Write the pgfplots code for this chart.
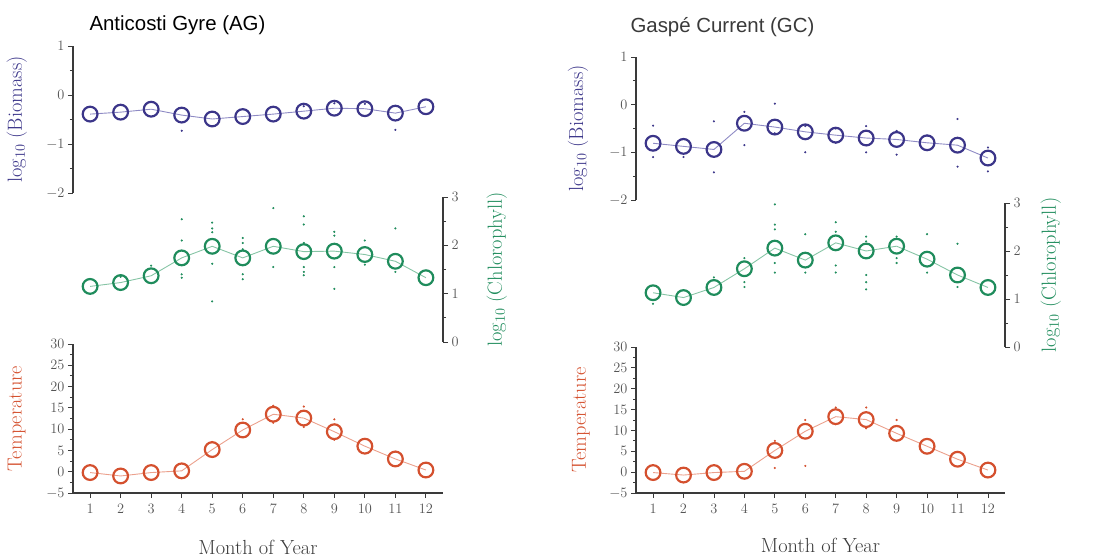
\documentclass[border=0pt]{standalone}
\usepackage{pgfplots}
\pgfplotsset{compat=1.18}
\usepackage{fontspec}
\newfontfamily\titlefont{Liberation Sans}
\definecolor{bioc}{HTML}{3B3589}
\definecolor{bioL}{HTML}{8E8AC4}
\definecolor{chlc}{HTML}{1F8C5C}
\definecolor{chlL}{HTML}{86C4A5}
\definecolor{tmpc}{HTML}{D4502E}
\definecolor{tmpL}{HTML}{EBA08C}
\definecolor{axisgray}{HTML}{3A3A3A}
\definecolor{tickgray}{HTML}{555555}
\pgfplotsset{
 panel/.style={scale only axis, xmin=0.44, xmax=12.56, width=370bp,
   anchor=south west, clip=false,
   axis line style={draw=axisgray, line width=1.3pt},
   tick style={draw=axisgray, line width=0.9pt},
   major tick length=5bp, minor tick length=3bp, tick align=outside,
   tick label style={font=\fontsize{13.5}{13.5}\selectfont, text=tickgray},
   label style={font=\fontsize{20.5}{20.5}\selectfont}},
 bio/.style={ymin=-2, ymax=1, ytick={-2,-1,0,1}, minor ytick={-1.5,-0.5,0.5},
   axis x line=none, axis y line*=left, ylabel={log$_{10}$ (Biomass)}},
 chl/.style={ymin=0, ymax=3, ytick={0,1,2,3}, minor ytick={0.5,1.5,2.5},
   axis x line=none, axis y line*=right, ylabel={log$_{10}$ (Chlorophyll)}},
 tmp/.style={ymin=-5, ymax=30, ytick={-5,0,5,10,15,20,25,30}, minor y tick num=1,
   xtick={1,...,12}, axis x line*=bottom, axis y line*=left,
   xticklabel style={yshift=-3bp},
   ylabel={Temperature}, xlabel={Month of Year},
   xlabel style={at={(axis description cs:0.5,-0.362)}, anchor=center, text=axisgray}},
 mainline/.style={line width=0.9pt, mark=o, mark size=7.4pt,
   mark options={line width=2.2pt, fill=white, draw=#1}},
 dots/.style={only marks, mark=*, mark size=0.85pt},
}
\begin{document}
\begin{tikzpicture}
\path[use as bounding box] (0,0) rectangle (1103bp,556bp);
% ---------- Left panel (AG) ----------
\begin{axis}[panel, bio, at={(73bp,363bp)}, height=147bp,
  ylabel style={text=bioc, at={(axis description cs:-0.152,0.5)}, anchor=center}]
\addplot[dots, bioc] coordinates {(4,-0.73) (11,-0.71) (9,-0.17) (10,-0.18) (8,-0.23)};
\addplot[mainline=bioc, bioL] coordinates {
(1,-0.39) (2,-0.35) (3,-0.29) (4,-0.41) (5,-0.49) (6,-0.44) (7,-0.39) (8,-0.33) (9,-0.27) (10,-0.28) (11,-0.37) (12,-0.24)};
\end{axis}
\begin{axis}[panel, chl, at={(73bp,214bp)}, height=145bp,
  ylabel style={text=chlc, at={(axis description cs:1.145,0.5)}, anchor=center}]
\addplot[dots, chlc] coordinates {(2,1.35) (3,1.58) (4,2.54) (4,2.1) (4,1.4) (4,1.33) (5,2.47) (5,2.35) (5,2.27) (5,1.62) (5,0.84) (6,2.15) (6,2.05) (6,1.92) (6,1.4) (6,1.3) (7,2.77) (7,1.55) (8,2.6) (8,2.43) (8,2.05) (8,1.55) (8,1.45) (8,1.38) (9,2.28) (9,2.2) (9,1.55) (9,1.1) (10,2.1) (10,1.6) (11,2.35) (11,1.45)};
\addplot[mainline=chlc, chlL] coordinates {
(1,1.15) (2,1.23) (3,1.37) (4,1.74) (5,1.98) (6,1.74) (7,1.98) (8,1.87) (9,1.88) (10,1.81) (11,1.67) (12,1.33)};
\end{axis}
\begin{axis}[panel, tmp, at={(73bp,63bp)}, height=149bp,
  ylabel style={text=tmpc, at={(axis description cs:-0.152,0.5)}, anchor=center}]
\addplot[dots, tmpc] coordinates {(5,7.0) (6,12.3) (7,15.5) (8,15.3) (9,12.3) (7,11.5) (8,10.5) (9,7.5)};
\addplot[mainline=tmpc, tmpL] coordinates {
(1,-0.2) (2,-1.0) (3,-0.2) (4,0.2) (5,5.2) (6,9.8) (7,13.5) (8,12.6) (9,9.4) (10,6.0) (11,3.0) (12,0.4)};
\end{axis}
% ---------- Right panel (GC) ----------
\begin{axis}[panel, bio, at={(636bp,356bp)}, width=369bp, height=143bp,
  ylabel style={text=bioc, at={(axis description cs:-0.157,0.5)}, anchor=center}]
\addplot[dots, bioc] coordinates {(1,-0.44) (1,-1.1) (2,-1.1) (3,-0.35) (3,-1.42) (4,-0.15) (4,-0.85) (5,0.02) (5,-0.6) (6,-0.45) (6,-1.0) (7,-0.5) (7,-0.8) (8,-0.45) (8,-1.0) (9,-0.55) (9,-1.05) (10,-0.65) (11,-0.3) (11,-1.3) (12,-0.9) (12,-1.4)};
\addplot[mainline=bioc, bioL] coordinates {
(1,-0.81) (2,-0.875) (3,-0.94) (4,-0.39) (5,-0.47) (6,-0.57) (7,-0.64) (8,-0.7) (9,-0.73) (10,-0.8) (11,-0.85) (12,-1.12)};
\end{axis}
\begin{axis}[panel, chl, at={(636bp,209bp)}, width=369bp, height=144bp,
  ylabel style={text=chlc, at={(axis description cs:1.124,0.5)}, anchor=center}]
\addplot[dots, chlc] coordinates {(1,0.9) (3,1.45) (4,1.85) (4,1.35) (4,1.25) (5,2.97) (5,2.55) (5,2.45) (5,1.75) (5,1.55) (6,2.35) (6,1.55) (7,2.6) (7,2.4) (7,1.7) (7,1.55) (8,2.3) (8,2.2) (8,1.5) (8,1.35) (8,1.2) (9,2.3) (9,1.85) (9,1.75) (10,2.35) (10,1.55) (11,2.15) (11,1.25)};
\addplot[mainline=chlc, chlL] coordinates {
(1,1.13) (2,1.03) (3,1.24) (4,1.63) (5,2.06) (6,1.81) (7,2.17) (8,2.0) (9,2.1) (10,1.83) (11,1.5) (12,1.24)};
\end{axis}
\begin{axis}[panel, tmp, at={(636bp,63bp)}, width=369bp, height=146bp,
  ylabel style={text=tmpc, at={(axis description cs:-0.149,0.5)}, anchor=center}]
\addplot[dots, tmpc] coordinates {(5,1.0) (6,1.5) (5,7.5) (6,12.5) (7,15.5) (8,15.5) (9,12.5) (7,11.5) (8,10.5)};
\addplot[mainline=tmpc, tmpL] coordinates {
(1,-0.1) (2,-0.7) (3,-0.1) (4,0.2) (5,5.2) (6,9.8) (7,13.3) (8,12.6) (9,9.3) (10,6.2) (11,3.1) (12,0.5)};
\end{axis}
% titles
\node[anchor=west, font=\titlefont\fontsize{20.5}{20.5}\selectfont, text=black] at (86bp,531bp) {Anticosti Gyre (AG)};
\node[anchor=west, font=\titlefont\fontsize{20.5}{20.5}\selectfont, text=axisgray] at (627bp,529bp) {Gaspé Current (GC)};
\end{tikzpicture}
\end{document}
